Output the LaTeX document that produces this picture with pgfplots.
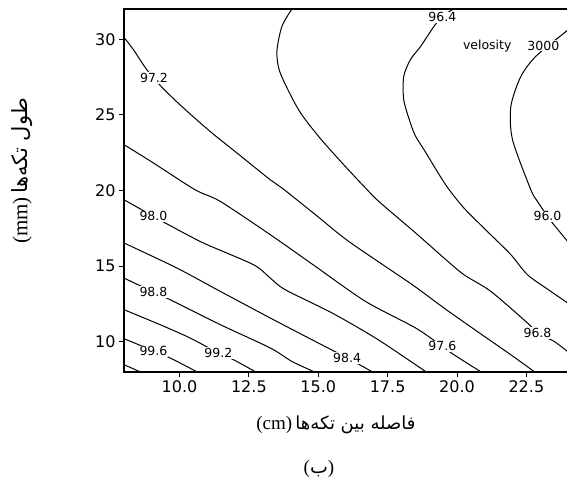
\documentclass[border=0pt]{standalone}
\usepackage{pgfplots}
\pgfplotsset{compat=1.18}
\usepackage{fontspec}
\setmainfont{DejaVu Sans}
\newfontfamily\arabicfont[Script=Arabic]{DejaVu Sans}
\newfontfamily\seriffont{Liberation Serif}
\TeXXeTstate=1
\tikzset{
  cline/.style={black, line width=1pt, smooth, tension=0.45},
  lab/.style={fill=white, inner sep=1pt, font=\fontsize{12.5}{14}\selectfont},
}
\begin{document}
\begin{tikzpicture}
\useasboundingbox (0pt,0pt) rectangle (567pt,479pt);
\begin{axis}[
  at={(124pt,107pt)}, anchor=south west,
  scale only axis, width=444pt, height=363pt,
  xmin=8, xmax=24, ymin=8, ymax=32,
  xtick={10,12.5,15,17.5,20,22.5}, ytick={10,15,20,25,30},
  tick pos=left, tick align=outside, major tick length=5pt,
  xticklabel style={/pgf/number format/.cd, fixed, fixed zerofill, precision=1},
  /pgf/number format/assume math mode=true,
  tick label style={font=\fontsize{16}{18}\selectfont},
  axis line style={line width=1.2pt},
  every tick/.style={black, line width=1pt},
]
% 96.0
\addplot[cline] coordinates {(24,30.63) (23.86,30.41) (22.84,28.87) (22.30,27.54) (21.94,25.56) (22.00,23.36) (22.66,20.05) (22.90,19.28) (23.26,18.29) (23.44,17.85) (24,16.6)};
% 96.4
\addplot[cline] coordinates {(19.88,32) (19.47,31.51) (19.17,30.85) (18.69,29.53) (18.32,28.65) (18.08,27.54) (18.08,26.00) (18.32,24.46) (18.51,23.58) (18.81,22.70) (19.59,20.38) (20.25,18.84) (21.09,17.30) (21.94,15.76) (22.54,14.43) (23.38,13.33) (24,12.55)};
% 96.8
\addplot[cline] coordinates {(14.05,32) (13.69,30.85) (13.51,29.20) (13.63,27.77) (14.29,25.34) (15.01,23.58) (15.86,21.82) (16.70,20.17) (17.18,19.28) (18.51,17.19) (19.53,15.54) (20.25,14.43) (21.22,13.33) (22.54,11.24) (22.90,10.58) (23.50,10.02) (24,9.33)};
% 97.2
\addplot[cline] coordinates {(8,30.12) (8.34,29.31) (8.82,27.99) (9.36,26.84) (10.08,25.56) (11.10,23.91) (12.07,22.48) (13.27,20.71) (13.69,20.17) (14.90,18.40) (16.10,16.63) (18.39,13.77) (19.53,12.23) (20.73,10.68) (21.94,9.14) (22.80,8)};
% 97.6
\addplot[cline] coordinates {(8,23.03) (9.06,21.82) (10.56,20.05) (11.47,19.28) (13.27,17.08) (14.90,14.98) (16.70,12.67) (18.51,10.91) (19.47,9.69) (19.89,9.14) (20.87,8)};
% 98.0
\addplot[cline] coordinates {(8,19.39) (9.06,18.29) (9.60,17.74) (10.86,16.53) (12.67,15.09) (13.27,14.21) (13.81,13.44) (15.50,11.90) (17.06,10.25) (18.51,8.48) (18.89,8)};
% 98.4
\addplot[cline] coordinates {(8,16.53) (9.90,14.88) (11.47,13.33) (13.27,11.57) (14.65,10.25) (16.04,8.93) (16.96,8)};
% 98.8
\addplot[cline] coordinates {(8,14.21) (9.06,13.29) (9.66,12.78) (11.47,11.13) (13.27,9.59) (14.05,8.70) (14.87,8)};
% 99.2
\addplot[cline] coordinates {(8,12.12) (9.30,11.13) (10.38,10.25) (11.40,9.26) (11.95,8.81) (12.75,8)};
% 99.6
\addplot[cline] coordinates {(8,10.20) (8.52,9.81) (9.06,9.36) (9.66,8.93) (10.64,8)};
% 100.0
\addplot[cline] coordinates {(8,8.48) (8.60,8)};

\node[lab] at (axis cs:9.08,27.44) {97.2};
\node[lab] at (axis cs:9.06,18.29) {98.0};
\node[lab] at (axis cs:9.06,13.29) {98.8};
\node[lab] at (axis cs:9.06,9.36) {99.6};
\node[lab] at (axis cs:11.40,9.26) {99.2};
\node[lab] at (axis cs:16.04,8.93) {98.4};
\node[lab] at (axis cs:19.47,9.69) {97.6};
\node[lab] at (axis cs:22.90,10.58) {96.8};
\node[lab] at (axis cs:23.26,18.29) {96.0};
\node[lab] at (axis cs:19.47,31.45) {96.4};
\node[lab] at (axis cs:21.09,29.57) {velosity};
\node[lab] at (axis cs:23.11,29.57) {3000};
\end{axis}
\node at (336pt,54pt) {{\fontsize{19}{22}\selectfont\seriffont (cm)} {\fontsize{18}{22}\selectfont\arabicfont\beginR فاصله بین تکه‌ها\endR}};
\node at (319pt,10pt) {\fontsize{19}{22}\selectfont{\seriffont (}{\arabicfont ب}{\seriffont )}};
\node[rotate=90] at (22pt,308pt) {{\fontsize{21}{24}\selectfont\seriffont (mm)} {\fontsize{21}{24}\selectfont\arabicfont\beginR طول تکه‌ها\endR}};
\end{tikzpicture}
\end{document}
